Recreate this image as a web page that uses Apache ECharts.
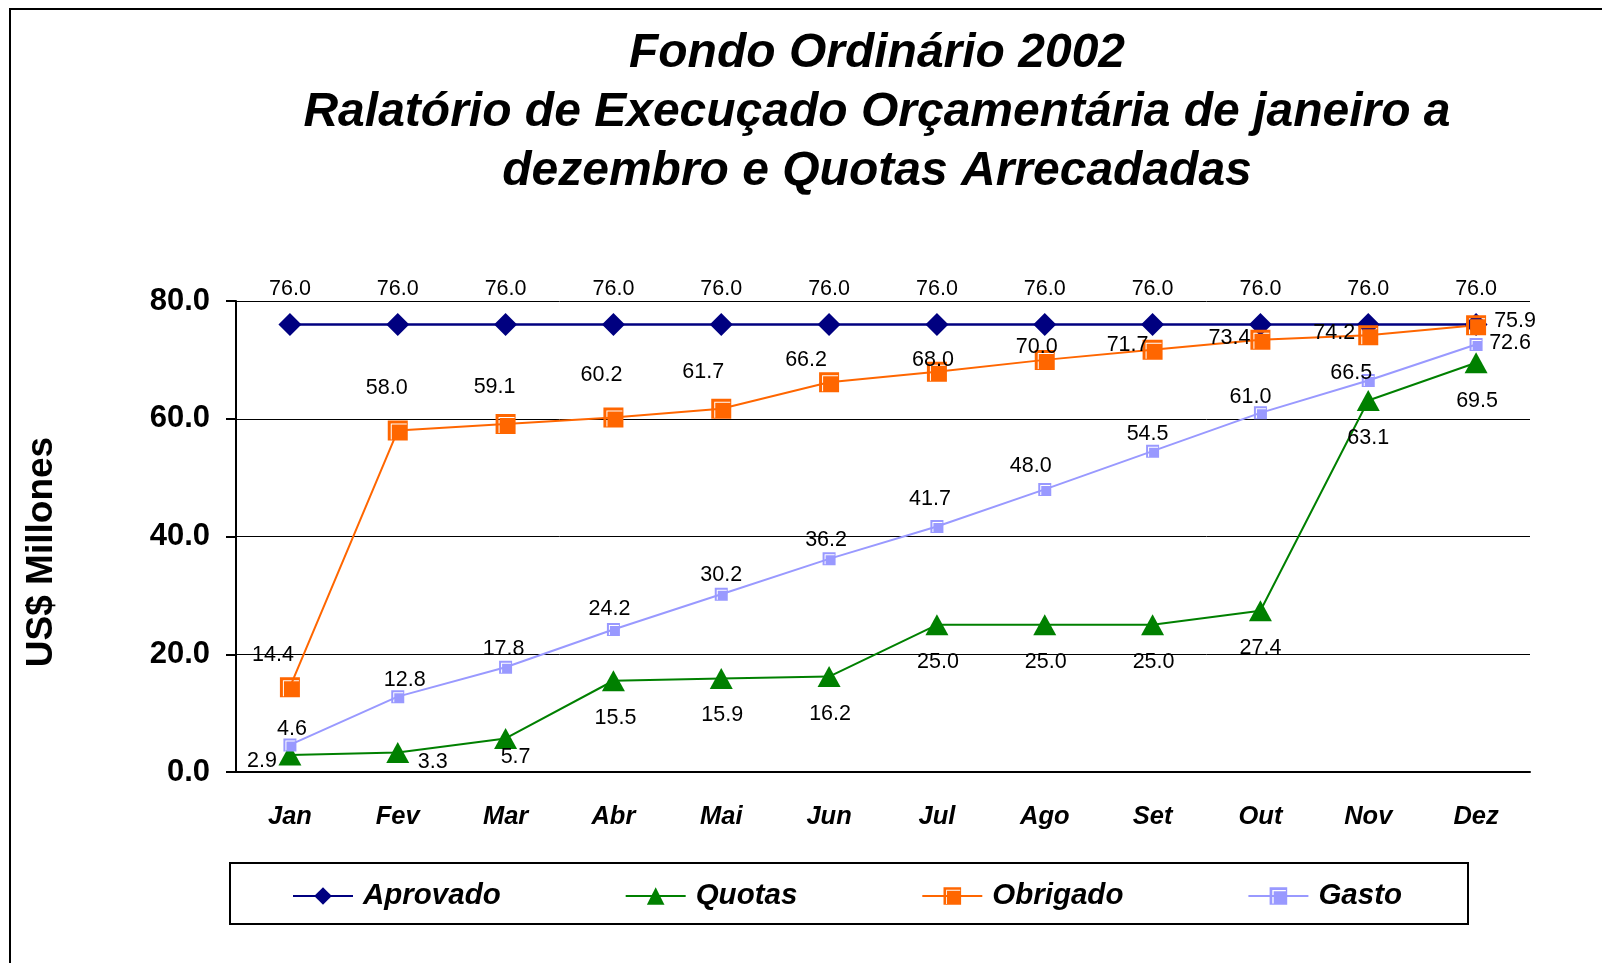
<!DOCTYPE html>
<html>
<head>
<meta charset="utf-8">
<title>Fondo Ordinário 2002</title>
<script src="https://cdn.jsdelivr.net/npm/echarts@6/dist/echarts.min.js"></script>
<style>
  html, body { margin: 0; padding: 0; background: #fff; }
  #chart { width: 1602px; height: 963px; }
</style>
</head>
<body>
<div id="chart"></div>
<script>
const FONT = '"Liberation Sans", Arial, sans-serif';

const months = ["Jan", "Fev", "Mar", "Abr", "Mai", "Jun", "Jul", "Ago", "Set", "Out", "Nov", "Dez"];
const aprovado = [76.0, 76.0, 76.0, 76.0, 76.0, 76.0, 76.0, 76.0, 76.0, 76.0, 76.0, 76.0];
const quotas = [2.9, 3.3, 5.7, 15.5, 15.9, 16.2, 25.0, 25.0, 25.0, 27.4, 63.1, 69.5];
const obrigado = [14.4, 58.0, 59.1, 60.2, 61.7, 66.2, 68.0, 70.0, 71.7, 73.4, 74.2, 75.9];
const gasto = [4.6, 12.8, 17.8, 24.2, 30.2, 36.2, 41.7, 48.0, 54.5, 61.0, 66.5, 72.6];
const yTicks = [0, 20, 40, 60, 80];

// label offsets (px) from each marker, as placed in the original
const offQuotas = [[-28, 6], [35, 10], [10, 19], [2, 37], [1, 37], [1, 37], [1, 37], [1, 37], [1, 37], [0, 37], [0, 38], [1, 38]];
const offObrigado = [[-17, -32], [-11, -42], [-11, -37], [-12, -42], [-18, -37], [-23, -22], [-4, -12], [-8, -13], [-25, -5], [-31, -2], [-34, -2], [39, -4]];
const offGasto = [[2, -16], [7, -17], [-2, -18], [-4, -20], [0, -19], [-3, -19], [-7, -27], [-14, -23], [-5, -17], [-10, -16], [-17, -7], [34, -1]];

// squares with the white "bevel" cut into them
const BIG_SQ = "path://M0,0H20V20H0Z M3,3V4H19V3Z M3,4V19H4V4Z";
const SMALL_SQ = "path://M0,0H13V13H0Z M2,2V3H12V2Z M2,3V12H3V3Z";

const withLabels = (values, offsets) =>
  values.map((v, i) => ({ value: v, label: { offset: offsets[i] } }));

const baseLabel = {
  show: true,
  position: "inside",
  align: "center",
  verticalAlign: "middle",
  color: "#000",
  fontFamily: FONT,
  fontSize: 21.5,
  formatter: (p) => p.value.toFixed(1),
};

const chart = echarts.init(document.getElementById("chart"), null, { renderer: "canvas" });

chart.setOption({
  animation: false,
  backgroundColor: "#fff",
  grid: { left: 236, right: 72, top: 301, bottom: 191, outerBoundsMode: "none" },
  legend: {
    data: ["Aprovado", "Quotas", "Obrigado", "Gasto"],
    left: 287,
    top: 876,
    itemWidth: 60,
    itemHeight: 22,
    itemGap: 124,
    textStyle: {
      color: "#000", fontFamily: FONT, fontSize: 29.5, fontWeight: "bold", fontStyle: "italic",
      padding: [0, 0, 0, 5],
    },
  },
  xAxis: {
    type: "category",
    data: months,
    boundaryGap: true,
    axisLine: { lineStyle: { color: "#000", width: 2 } },
    axisTick: { length: 10, lineStyle: { color: "#000", width: 2 } },
    axisLabel: {
      color: "#000", fontFamily: FONT, fontSize: 25.5, fontWeight: "bold", fontStyle: "italic", margin: 32,
    },
    splitLine: { show: false },
  },
  yAxis: {
    type: "value",
    min: yTicks[0],
    max: yTicks[yTicks.length - 1],
    interval: yTicks[1] - yTicks[0],
    axisLine: { show: true, lineStyle: { color: "#000", width: 2 } },
    axisTick: { show: true, length: 10, lineStyle: { color: "#000", width: 2 } },
    axisLabel: {
      color: "#000", fontFamily: FONT, fontSize: 31, fontWeight: "bold", margin: 26,
      formatter: (v) => v.toFixed(1),
    },
    splitLine: { show: true, lineStyle: { color: "#000", width: 1 } },
  },
  series: [
    {
      name: "Aprovado",
      type: "line",
      data: withLabels(aprovado, aprovado.map(() => [0, -35])),
      symbol: "diamond",
      symbolSize: 23,
      lineStyle: { color: "#000080", width: 2.5 },
      itemStyle: { color: "#000080" },
      label: baseLabel,
    },
    {
      name: "Quotas",
      type: "line",
      data: withLabels(quotas, offQuotas),
      symbol: "triangle",
      symbolSize: [23, 21],
      lineStyle: { color: "#008000", width: 2 },
      itemStyle: { color: "#008000" },
      label: baseLabel,
    },
    {
      name: "Obrigado",
      type: "line",
      data: withLabels(obrigado, offObrigado),
      symbol: BIG_SQ,
      symbolSize: 20,
      lineStyle: { color: "#FF6600", width: 2 },
      itemStyle: { color: "#FF6600" },
      label: baseLabel,
    },
    {
      name: "Gasto",
      type: "line",
      data: withLabels(gasto, offGasto),
      symbol: SMALL_SQ,
      symbolSize: 13,
      lineStyle: { color: "#9999FF", width: 2 },
      itemStyle: { color: "#9999FF" },
      label: baseLabel,
    },
  ],
  graphic: [
    // outer frame (right/bottom run off the page like in the original)
    { type: "rect", shape: { x: 10, y: 9, width: 1700, height: 1100 }, style: { fill: null, stroke: "#000", lineWidth: 2 }, silent: true },
    // legend box
    { type: "rect", shape: { x: 230, y: 863, width: 1238, height: 61 }, style: { fill: null, stroke: "#000", lineWidth: 2 }, silent: true },
    {
      type: "text",
      x: 877,
      y: 113,
      style: {
        text: "Fondo Ordinário 2002\nRalatório de Execuçado Orçamentária de janeiro a\ndezembro e Quotas Arrecadadas",
        align: "center",
        verticalAlign: "middle",
        fontFamily: FONT,
        fontSize: 48,
        fontWeight: "bold",
        fontStyle: "italic",
        lineHeight: 59,
        fill: "#000",
      },
    },
    {
      type: "text",
      x: 42,
      y: 552,
      rotation: Math.PI / 2,
      style: {
        text: "US$ Millones",
        align: "center",
        verticalAlign: "middle",
        fontFamily: FONT,
        fontSize: 37,
        fontWeight: "bold",
        fill: "#000",
      },
    },
  ],
});

window.addEventListener("resize", () => chart.resize());
</script>
</body>
</html>
